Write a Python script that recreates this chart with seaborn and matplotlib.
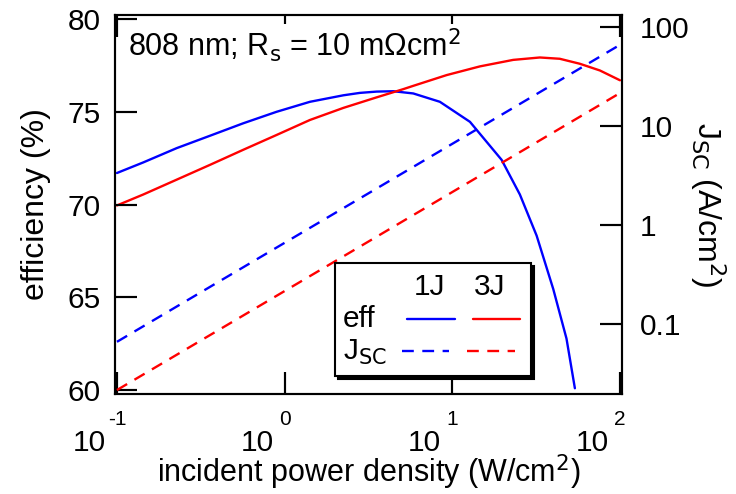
import matplotlib
matplotlib.use("Agg")
import matplotlib.pyplot as plt
import matplotlib.transforms as mtransforms
from matplotlib.patches import Rectangle
from matplotlib.lines import Line2D
from matplotlib.markers import TICKUP, TICKDOWN, TICKLEFT, TICKRIGHT
from matplotlib.ticker import NullLocator, NullFormatter, FixedFormatter
import seaborn as sns

# ================================
# Data
# ================================
# efficiency vs incident power (W/cm2), single junction (1J)
power_1j = [0.1, 0.1435, 0.227, 0.359, 0.566, 0.895, 1.416, 2.239, 2.81, 3.54,
            4.45, 5.85, 8.43, 12.74, 19.68, 25.29, 31.84, 40.0, 47.97, 53.83]
eff_1j = [71.70, 72.27, 73.04, 73.71, 74.38, 75.00, 75.54, 75.89, 76.02, 76.09,
          76.11, 75.99, 75.54, 74.46, 72.41, 70.54, 68.32, 65.44, 62.77, 60.09]

# efficiency vs incident power (W/cm2), triple junction (3J)
power_3j = [0.1, 0.1435, 0.227, 0.359, 0.566, 0.895, 1.416, 2.239, 3.54, 5.09,
            5.85, 9.25, 14.62, 23.07, 33.27, 43.75, 57.68, 75.86, 100]
eff_3j = [69.95, 70.54, 71.34, 72.14, 72.95, 73.75, 74.56, 75.21, 75.78, 76.22,
          76.40, 76.98, 77.45, 77.80, 77.93, 77.86, 77.59, 77.23, 76.70]

# short circuit current density (A/cm2)
power_jsc = [0.1, 1, 10, 100]
jsc_1j = [0.066, 0.66, 6.6, 66]
jsc_3j = [0.0215, 0.215, 2.15, 21.5]

x_ticks = [0.1, 1, 10, 100]
x_exps = ["-1", "0", "1", "2"]
eff_ticks = [60, 65, 70, 75, 80]
jsc_ticks = [0.1, 1, 10, 100]
jsc_labels = ["0.1", "1", "10", "100"]

BLUE = "#0000ff"
RED = "#ff0000"

# ================================
# Style
# ================================
sns.set_theme(style="ticks")
plt.rcParams["font.family"] = ["Liberation Sans", "DejaVu Sans"]
plt.rcParams["axes.linewidth"] = 1.5
for k in ["text.color", "axes.labelcolor", "axes.edgecolor", "xtick.color", "ytick.color"]:
    plt.rcParams[k] = "black"

fig = plt.figure(figsize=(7.36, 4.94), dpi=100)
ax = fig.add_axes([0.1562, 0.2024, 0.6889, 0.7672])
ax.set_xscale("log")

sns.lineplot(x=power_1j, y=eff_1j, ax=ax, color=BLUE, lw=1.7)
sns.lineplot(x=power_3j, y=eff_3j, ax=ax, color=RED, lw=1.7)

ax2 = ax.twinx()
ax2.set_yscale("log")
dash = (0, (5, 3.6))
sns.lineplot(x=power_jsc, y=jsc_1j, ax=ax2, color=BLUE, lw=1.7, linestyle=dash)
sns.lineplot(x=power_jsc, y=jsc_3j, ax=ax2, color=RED, lw=1.7, linestyle=dash)

# ================================
# Axes limits and ticks
# ================================
ax.set_xlim(0.0973, 102.8)
ax.set_ylim(59.78, 80.22)
ax2.set_ylim(0.0196, 132)

ax.set_xticks(x_ticks)
ax.xaxis.set_minor_locator(NullLocator())
ax.xaxis.set_major_formatter(NullFormatter())
ax.set_yticks(eff_ticks)
ax2.set_yticks(jsc_ticks)
ax2.yaxis.set_major_formatter(FixedFormatter(jsc_labels))
ax2.yaxis.set_minor_locator(NullLocator())

ax.tick_params(axis="x", which="major", direction="in", top=True, bottom=True,
               length=16, width=1.5, colors="black")
ax.tick_params(axis="y", which="major", direction="in", left=True, right=False,
               length=16, width=1.5, labelsize=21.5, pad=10, colors="black")
ax2.tick_params(axis="y", which="major", direction="in", right=True, left=False,
                length=16, width=1.5, labelsize=21.5, pad=13, colors="black")

# inward tick marks drawn again as markers on the spines (same place as the axis ticks)
tick_kw = dict(ls="none", color="black", markersize=16, markeredgewidth=1.5,
               clip_on=False, zorder=2.5)
bx = mtransforms.blended_transform_factory(ax.transData, ax.transAxes)
by = mtransforms.blended_transform_factory(ax.transAxes, ax.transData)
by2 = mtransforms.blended_transform_factory(ax2.transAxes, ax2.transData)
ax.plot(x_ticks, [0] * len(x_ticks), marker=TICKUP, transform=bx, **tick_kw)
ax.plot(x_ticks, [1] * len(x_ticks), marker=TICKDOWN, transform=bx, **tick_kw)
ax.plot([0] * len(eff_ticks), eff_ticks, marker=TICKRIGHT, transform=by, **tick_kw)
ax2.plot([1] * len(jsc_ticks), jsc_ticks, marker=TICKLEFT, transform=by2, **tick_kw)

for a in (ax, ax2):
    for s in a.spines.values():
        s.set_linewidth(1.5)
        s.set_color("black")

# gnuplot-like x tick labels: "10" with raised exponent centred on the tick
for t, e in zip(x_ticks, x_exps):
    ax.annotate("10", xy=(t, 0), xycoords=("data", "axes fraction"),
                xytext=(-11, -49), textcoords="offset pixels",
                ha="right", va="center", fontsize=21.5)
    ax.annotate(e, xy=(t, 0), xycoords=("data", "axes fraction"),
                xytext=(0, -25), textcoords="offset pixels",
                ha="center", va="center", fontsize=15)

ax.set_xlabel("incident power density (W/cm$^2$)", fontsize=22)
ax.xaxis.set_label_coords(0.5, -0.153)
ax.set_ylabel("efficiency (%)", fontsize=23)
ax.yaxis.set_label_coords(-0.126, 0.5)
ax2.set_ylabel("J$_\\mathrm{SC}$ (A/cm$^2$)", fontsize=23, rotation=-90, va="bottom")
ax2.yaxis.set_label_coords(1.13, 0.5)

ax.text(0.026, 0.892, "808 nm; R$_\\mathrm{s}$ = 10 m\u03a9cm$^2$", transform=ax.transAxes,
        fontsize=22, va="baseline", ha="left", zorder=5,
        bbox=dict(facecolor="white", edgecolor="none", pad=1.5))

# ================================
# Table-like legend with shadow
# ================================
tr = ax2.transAxes
lx0, lx1, ly0, ly1 = 0.434, 0.8205, 0.0475, 0.3456
ax2.add_patch(Rectangle((lx0 + 0.006, ly0 - 0.008), lx1 - lx0, ly1 - ly0, transform=tr,
                        facecolor="black", edgecolor="black", lw=1.5, zorder=10, clip_on=False))
ax2.add_patch(Rectangle((lx0, ly0), lx1 - lx0, ly1 - ly0, transform=tr,
                        facecolor="white", edgecolor="black", lw=1.5, zorder=11, clip_on=False))
ax2.text(0.621, 0.261, "1J", transform=tr, fontsize=21.5, ha="center", va="baseline", zorder=12)
ax2.text(0.739, 0.261, "3J", transform=tr, fontsize=21.5, ha="center", va="baseline", zorder=12)
ax2.text(0.449, 0.177, "eff", transform=tr, fontsize=21.5, ha="left", va="baseline", zorder=12)
ax2.text(0.449, 0.0897, "J$_\\mathrm{SC}$", transform=tr, fontsize=21.5, ha="left",
         va="baseline", zorder=12)
ax2.add_line(Line2D([0.576, 0.671], [0.198, 0.198], transform=tr, color=BLUE, lw=1.7, zorder=12))
ax2.add_line(Line2D([0.706, 0.799], [0.198, 0.198], transform=tr, color=RED, lw=1.7, zorder=12))
ax2.add_line(Line2D([0.566, 0.659], [0.114, 0.114], transform=tr, color=BLUE, lw=1.7,
                    linestyle=dash, zorder=12))
ax2.add_line(Line2D([0.694, 0.789], [0.114, 0.114], transform=tr, color=RED, lw=1.7,
                    linestyle=dash, zorder=12))

# draw once before saving (ticks only showed up in runs that did this)
fig.canvas.draw()
fig.savefig("out.png", dpi=100)
